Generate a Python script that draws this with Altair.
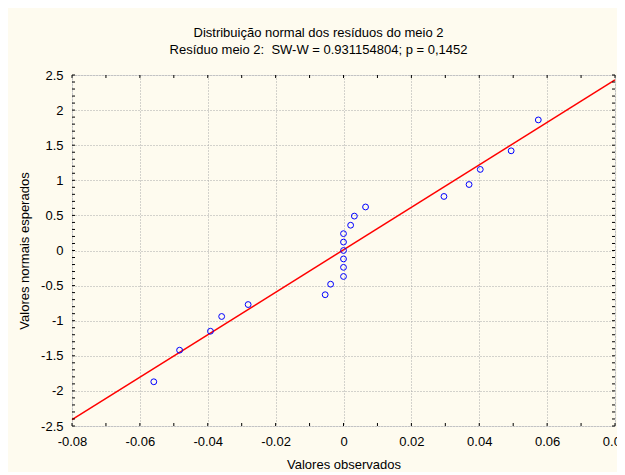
import altair as alt
import pandas as pd

# Observed residuals (x) and expected normal values (y)
obs = [-0.0559, -0.0483, -0.0392, -0.0359, -0.0281, -0.0054, -0.0038,
       0.0, 0.0, 0.0, 0.0, 0.0, 0.0,
       0.0021, 0.0032, 0.0065, 0.0296, 0.0370, 0.0403, 0.0494, 0.0574]
expected = [-1.87, -1.42, -1.15, -0.94, -0.77, -0.63, -0.48,
            -0.37, -0.24, -0.12, 0.0, 0.12, 0.24,
            0.36, 0.49, 0.62, 0.77, 0.94, 1.155, 1.42, 1.86]

# Fitted normal line endpoints
line_x = [-0.08, 0.08]
line_y = [-2.41, 2.43]

x_ticks = [-0.08, -0.06, -0.04, -0.02, 0, 0.02, 0.04, 0.06, 0.08]
y_ticks = [-2.5, -2, -1.5, -1, -0.5, 0, 0.5, 1, 1.5, 2, 2.5]
x_minor = [-0.08, -0.07, -0.06, -0.05, -0.04, -0.03, -0.02, -0.01, 0,
           0.01, 0.02, 0.03, 0.04, 0.05, 0.06, 0.07, 0.08]
y_minor = [-2.5, -2.4, -2.3, -2.2, -2.1, -2.0, -1.9, -1.8, -1.7, -1.6, -1.5,
           -1.4, -1.3, -1.2, -1.1, -1.0, -0.9, -0.8, -0.7, -0.6, -0.5,
           -0.4, -0.3, -0.2, -0.1, 0.0, 0.1, 0.2, 0.3, 0.4, 0.5,
           0.6, 0.7, 0.8, 0.9, 1.0, 1.1, 1.2, 1.3, 1.4, 1.5,
           1.6, 1.7, 1.8, 1.9, 2.0, 2.1, 2.2, 2.3, 2.4, 2.5]

W, H = 543, 351
FONT = "Liberation Sans"

pts = pd.DataFrame({"x": obs, "y": expected})
ln = pd.DataFrame({"x": line_x, "y": line_y})
xt = pd.DataFrame({"x": x_minor})
yt = pd.DataFrame({"y": y_minor})

xscale = alt.Scale(domain=[-0.08, 0.08], nice=False, zero=False)
yscale = alt.Scale(domain=[-2.5, 2.5], nice=False, zero=False)

x_axis = alt.Axis(values=x_ticks, labelExpr="toString(datum.value)", grid=True,
                  gridDash=[1, 2], gridColor="#A8A8A8", domain=False, ticks=False,
                  labelFontSize=13, labelPadding=9, labelColor="black",
                  labelOverlap=False, labelFlush=False,
                  title="Valores observados", titleFontSize=13, titleFontWeight="normal",
                  titlePadding=10, titleColor="black")
y_axis = alt.Axis(values=y_ticks, labelExpr="toString(datum.value)", grid=True,
                  gridDash=[1, 2], gridColor="#A8A8A8", domain=False, ticks=False,
                  labelFontSize=13, labelPadding=9, labelColor="black",
                  labelOverlap=False, labelFlush=False, labelBound=False,
                  title="Valores normais esperados", titleFontSize=13,
                  titleFontWeight="normal", titlePadding=9, titleColor="black")

X = lambda: alt.X("x:Q", scale=xscale, axis=x_axis)
Y = lambda: alt.Y("y:Q", scale=yscale, axis=y_axis)

line = alt.Chart(ln).mark_line(color="#FF0000", strokeWidth=1.5).encode(x=X(), y=Y())

points = alt.Chart(pts).mark_point(shape="circle", filled=False, color="#0000FF",
                                    size=34, strokeWidth=1, opacity=1).encode(x=X(), y=Y())

TL = 3
bottom_ticks = alt.Chart(xt).mark_rule(color="black", strokeWidth=1).encode(
    x=X(), y=alt.value(H), y2=alt.value(H - TL))
top_ticks = alt.Chart(xt).mark_rule(color="black", strokeWidth=1).encode(
    x=X(), y=alt.value(0), y2=alt.value(TL))
left_ticks = alt.Chart(yt).mark_rule(color="black", strokeWidth=1).encode(
    y=Y(), x=alt.value(0), x2=alt.value(TL))
right_ticks = alt.Chart(yt).mark_rule(color="black", strokeWidth=1).encode(
    y=Y(), x=alt.value(W), x2=alt.value(W - TL))

chart = alt.layer(line, points, bottom_ticks, top_ticks, left_ticks, right_ticks).properties(
    width=W, height=H,
    title=alt.Title(
        text=["Distribuição normal dos resíduos do meio 2",
              "Resíduo meio 2:\u00a0 SW-W = 0.931154804; p = 0,1452"],
        fontSize=13, fontWeight="normal", color="black", font=FONT,
        anchor="middle", dx=-25, lineHeight=17, offset=12),
    autosize=alt.AutoSizeParams(type="none"),
    padding={"left": 64, "top": 67, "right": 2, "bottom": 46},
    background="#FEFBEF",
).configure_view(
    stroke="black", strokeWidth=1, fill="white"
).configure(font=FONT).configure_axis(labelFont=FONT, titleFont=FONT)

chart.save("out.html", embed_options={"renderer": "svg", "actions": False})
